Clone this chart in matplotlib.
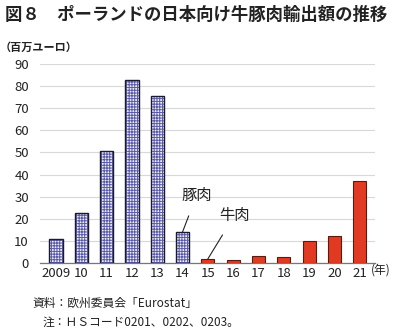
import numpy as np
import matplotlib.pyplot as plt

plt.rcParams['font.family'] = ['Noto Sans CJK JP', 'DejaVu Sans']
plt.rcParams['hatch.linewidth'] = 0.7

years = ["2009", "10", "11", "12", "13", "14", "15", "16", "17", "18", "19", "20", "21"]
pork = [11, 22.6, 50.7, 82.6, 75.5, 14]
beef = [1.8, 1.2, 3.0, 2.6, 10, 12.2, 37]
yticks = [0, 10, 20, 30, 40, 50, 60, 70, 80, 90]

fig = plt.figure(figsize=(3.96, 3.34), dpi=100)
ax = fig.add_axes([0.101, 0.213, 0.846, 0.595])

x = np.arange(len(years))
xp = x[:len(pork)]
xb = x[len(pork):]

# pork: fine blue check pattern, dark outline
ax.bar(xp, pork, width=0.52, facecolor='#eeeef8', edgecolor='#5a5aa8',
       hatch='++++++', linewidth=0, zorder=3)
ax.bar(xp, pork, width=0.52, facecolor='none', edgecolor='#1a1a30',
       linewidth=1.0, zorder=4)
ax.bar(xb, beef, width=0.52, color='#e23a22', edgecolor='#5a1a10',
       linewidth=0.8, zorder=3)

ax.set_ylim(0, 90)
ax.set_xlim(-0.63, 12.6)
ax.set_yticks(yticks)
ax.set_xticks(x)
ax.set_xticklabels(years)
ax.yaxis.grid(True, color='#d8d8d8', linewidth=0.8, zorder=0)
ax.tick_params(length=0, labelsize=9.5, colors='#222222', pad=3)
ax.tick_params(axis='y', pad=8)
for s in ['top', 'right', 'left']:
    ax.spines[s].set_visible(False)
ax.spines['bottom'].set_color('#777777')
ax.spines['bottom'].set_linewidth(0.9)

ax.annotate('豚肉', xy=(5, pork[5]), xytext=(5.55, 30.5), fontsize=11,
            ha='center', va='center', color='#222222',
            arrowprops=dict(arrowstyle='-', color='#222222', lw=0.8,
                            shrinkA=7, shrinkB=0))
ax.annotate('牛肉', xy=(6, beef[0]), xytext=(7.05, 21.5), fontsize=11,
            ha='center', va='center', color='#222222',
            arrowprops=dict(arrowstyle='-', color='#222222', lw=0.8,
                            shrinkA=7, shrinkB=0))

fig.text(0.012, 0.955, '図８　ポーランドの日本向け牛豚肉輸出額の推移',
         fontsize=12.5, fontweight='bold', va='center', color='#222222')
fig.text(0.0, 0.858, '（百万ユーロ）', fontsize=8, fontweight='bold',
         va='center', color='#222222')
fig.text(0.937, 0.192, '(年)', fontsize=8.5, va='center', ha='left',
         color='#222222')
fig.text(0.083, 0.093, '資料：欧州委員会「Eurostat」', fontsize=8.5,
         va='center', color='#222222')
fig.text(0.108, 0.036, '注：ＨＳコード0201、0202、0203。', fontsize=8.5,
         va='center', color='#222222')

fig.savefig('out.png', dpi=100)
